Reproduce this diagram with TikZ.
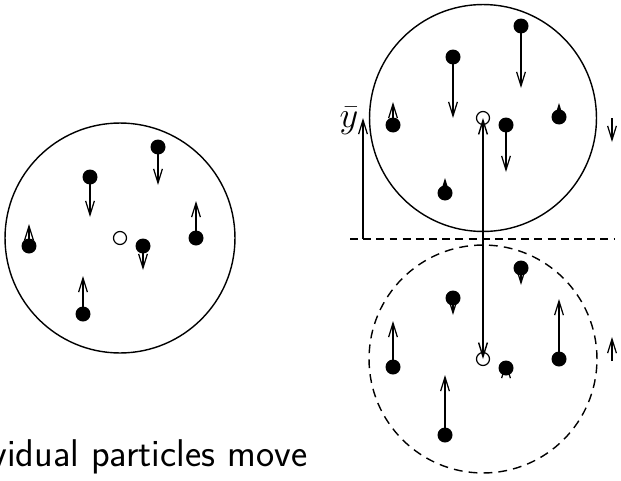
\documentclass[tikz,border=0pt]{standalone}
\usepackage{amsmath}
\usetikzlibrary{arrows.meta}

\begin{document}
\begin{tikzpicture}[
  x=0.02cm, y=-0.02cm,
  >={Straight Barb[length=8pt,width=5pt]},
  dot/.style={circle,fill=black,inner sep=0pt,minimum size=0.3cm},
  com/.style={circle,draw,line width=0.7pt,inner sep=0pt,minimum size=0.26cm},
  vel/.style={->,line width=0.7pt},
  rim/.style={line width=0.8pt}
]
\useasboundingbox (0,0) rectangle (621,480);

% centres of the three clusters
\node[com] (c1) at (120,238) {};
\node[com] (c2) at (483,118) {};
\node[com] (c3) at (483,359) {};
\draw[rim] (c1.center) circle [radius=2.3cm];
\draw[rim] (c2.center) circle [radius=2.27cm];
\draw[rim,dash pattern=on 5pt off 3.5pt] (c3.center) circle [radius=2.28cm];

% left cluster: x / y / tip of velocity
\foreach \x/\y/\t [count=\i] in {158/147/185, 90/177/217, 29/246/224,
                                  143/246/270, 196/238/201, 83/314/276} {
  \node[dot] (a\i) at (\x,\y) {};
  \coordinate (a\i-v) at (\x,\t);
  \draw[vel] (a\i.center) -- (a\i-v);
}

% upper right cluster
\foreach \x/\y/\t [count=\i] in {521/26/88, 453/57/118, 393/125/102,
                                  506/125/172, 559/117/103, 445/193/178} {
  \node[dot] (b\i) at (\x,\y) {};
  \coordinate (b\i-v) at (\x,\t);
  \draw[vel] (b\i.center) -- (b\i-v);
}

% mirrored cluster
\foreach \x/\y/\t [count=\i] in {521/268/285, 453/298/315, 393/367/321,
                                  506/368/362, 559/359/299, 445/435/375} {
  \node[dot] (m\i) at (\x,\y) {};
  \coordinate (m\i-v) at (\x,\t);
  \draw[vel] (m\i.center) -- (m\i-v);
}

% wall velocities
\coordinate (w1) at (612,118);
\coordinate (w1-v) at (612,142);
\coordinate (w2) at (612,361);
\coordinate (w2-v) at (612,337);
\draw[vel] (w1) -- (w1-v);
\draw[vel] (w2) -- (w2-v);

% symmetry line and height
\coordinate (base-w) at (350,239);
\coordinate (base-e) at (615,239);
\coordinate (ybase) at (363,239);
\coordinate (ytop) at (363,118);
\draw[line width=0.7pt,dash pattern=on 4.5pt off 3pt] (base-w) -- (base-e);
\draw[vel] (ybase) -- (ytop);
\node[inner sep=1pt] (ybar) at (349,121) {\fontsize{20pt}{24pt}\selectfont$\bar{y}$};
\draw[<->,line width=0.8pt] (c3.center) -- (c2.center);

\node[anchor=base west,inner sep=0pt] (cap) at (-10,466)
  {\fontsize{22pt}{26pt}\selectfont\sffamily vidual particles move};
\end{tikzpicture}
\end{document}
